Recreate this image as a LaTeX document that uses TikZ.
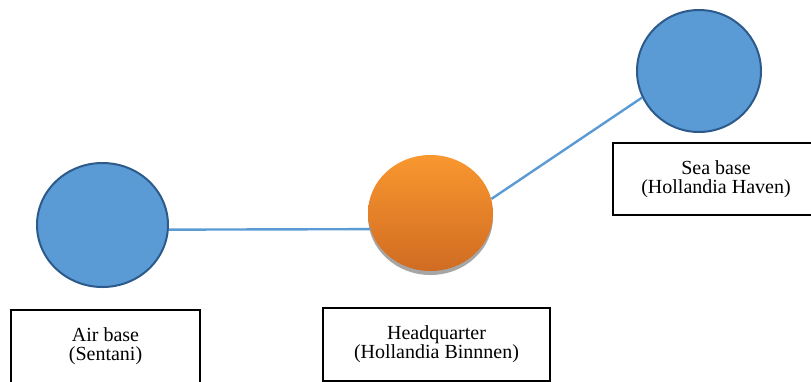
\documentclass[tikz,border=0pt]{standalone}
\usepackage{fontspec}
\setmainfont{Liberation Serif}
\usetikzlibrary{shadows,shapes.geometric}
\definecolor{basefill}{HTML}{5B9BD5}
\definecolor{baseedge}{HTML}{2C5A8A}
\definecolor{hqtop}{HTML}{F9972F}
\definecolor{hqbot}{HTML}{D06C22}
\definecolor{link}{HTML}{5B9BD5}
\tikzset{
  base/.style={ellipse, draw=baseedge, fill=basefill, line width=2pt, inner sep=0pt},
  hqnode/.style={ellipse, inner sep=0pt, top color=hqtop, bottom color=hqbot,
    drop shadow={shadow xshift=0pt, shadow yshift=-4pt, fill=black!35, opacity=1}},
  labelbox/.style={draw=black, line width=2.4pt, fill=white, inner sep=0pt, align=center,
    font=\fontsize{20}{19}\selectfont},
  conn/.style={draw=link, line width=2.4pt}
}
\begin{document}
\begin{tikzpicture}[x=1pt, y=-1pt]
\useasboundingbox (0,0) rectangle (811,381);
\clip (0,0) rectangle (811,381);
% circles
\node[base, minimum width=131pt, minimum height=124pt] (air) at (102.5,225) {};
\node[hqnode, minimum width=125pt, minimum height=116pt] (hq) at (430.5,213) {};
\node[base, minimum width=124pt, minimum height=122pt] (sea) at (699,71) {};
% label boxes
\node[labelbox, minimum width=189pt, minimum height=73pt] (airlbl) at (105.5,346.5) {Air base\\(Sentani)};
\node[labelbox, minimum width=227pt, minimum height=73pt] (hqlbl) at (436.5,344.5) {Headquarter\\(Hollandia Binnnen)};
\node[labelbox, minimum width=206pt, minimum height=72pt] (sealbl) at (716,179) {Sea base\\(Hollandia Haven)};
% connectors
\draw[conn] (air.-4.4) -- (hq.195.9);
\draw[conn] (hq.13.5) -- (sea.205.7);
\end{tikzpicture}
\end{document}
